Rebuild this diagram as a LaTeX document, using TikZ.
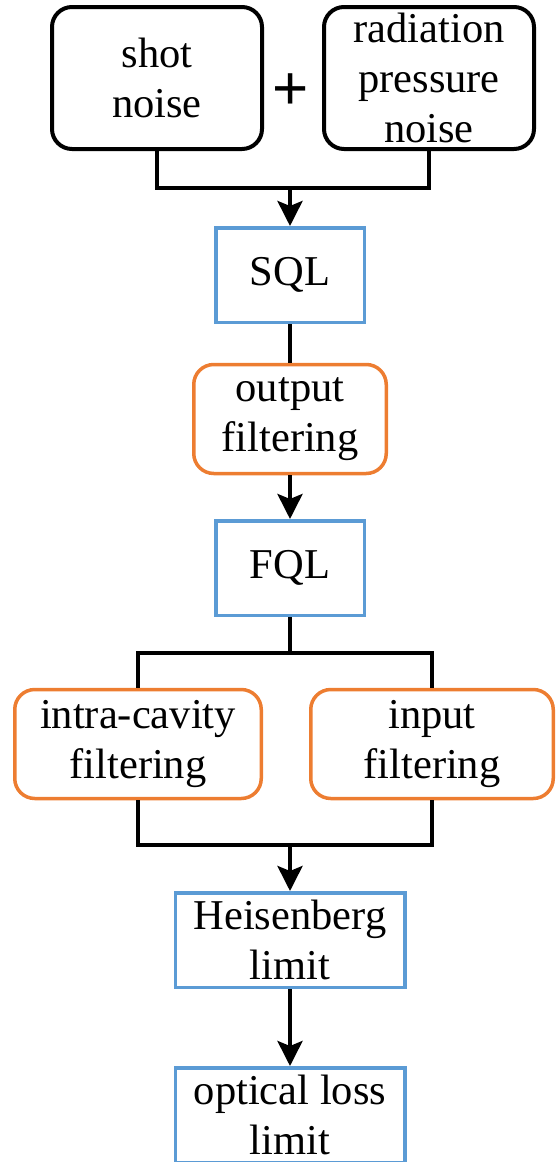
\documentclass[tikz,border=0pt]{standalone}
\usepackage{fontspec}
\setmainfont{Liberation Serif}
\newfontfamily\plusfont{Liberation Sans}
\usetikzlibrary{arrows.meta}
\definecolor{boxblue}{HTML}{5B9BD5}
\definecolor{boxorange}{HTML}{ED7D31}
\tikzset{
  x=1pt,y=-1pt,
  every node/.style={font=\fontsize{42.5}{50}\selectfont, align=center, inner sep=0pt},
  noisebox/.style={draw=black, line width=4pt, rounded corners=20pt, minimum width=210pt, minimum height=142pt},
  limitbox/.style={draw=boxblue, line width=3.5pt, minimum height=94.5pt},
  filterbox/.style={draw=boxorange, line width=3.5pt, rounded corners=20pt, minimum height=109pt},
  conn/.style={draw=black, line width=4pt, line join=miter},
  arr/.style={conn, -{Stealth[length=25pt,width=25pt,inset=5pt]}}
}
\begin{document}
\begin{tikzpicture}
\useasboundingbox (0,0) rectangle (556,1162);
\begin{scope}
\clip (0,0) rectangle (556,1162);
\node[noisebox] (shot) at (157,78) {shot\\noise};
\node[noisebox] (rad) at (429,78) {radiation\\pressure\\noise};
\node (plus) at (291,92) {\plusfont\fontsize{62}{62}\selectfont +};
\node[limitbox, minimum width=148.5pt] (sql) at (290,275) {SQL};
\node[filterbox, minimum width=192.5pt] (outf) at (290,419) {output\\filtering};
\node[limitbox, minimum width=148.5pt] (fql) at (290,568) {FQL};
\node[filterbox, minimum width=246.5pt] (intra) at (138,744) {intra-cavity\\filtering};
\node[filterbox, minimum width=242.5pt] (input) at (432,744) {input\\filtering};
\node[limitbox, minimum width=229.5pt] (heis) at (290,940) {Heisenberg\\limit};
\node[limitbox, minimum width=229.5pt] (opt) at (290,1115) {optical loss\\limit};

\coordinate (j1) at (290,188);
\coordinate (j2) at (290,653);
\coordinate (j3) at (290,845);

\draw[conn] (shot.south) |- (j1) -| (rad.south);
\draw[arr] (j1) -- (sql.north);
\draw[conn] (sql.south) -- (outf.north);
\draw[arr] (outf.south) -- (fql.north);
\draw[conn] (fql.south) -- (j2);
\draw[conn] (intra.north) |- (j2) -| (input.north);
\draw[conn] (intra.south) |- (j3) -| (input.south);
\draw[arr] (j3) -- (heis.north);
\draw[arr] (heis.south) -- (opt.north);
\end{scope}
\end{tikzpicture}
\end{document}
